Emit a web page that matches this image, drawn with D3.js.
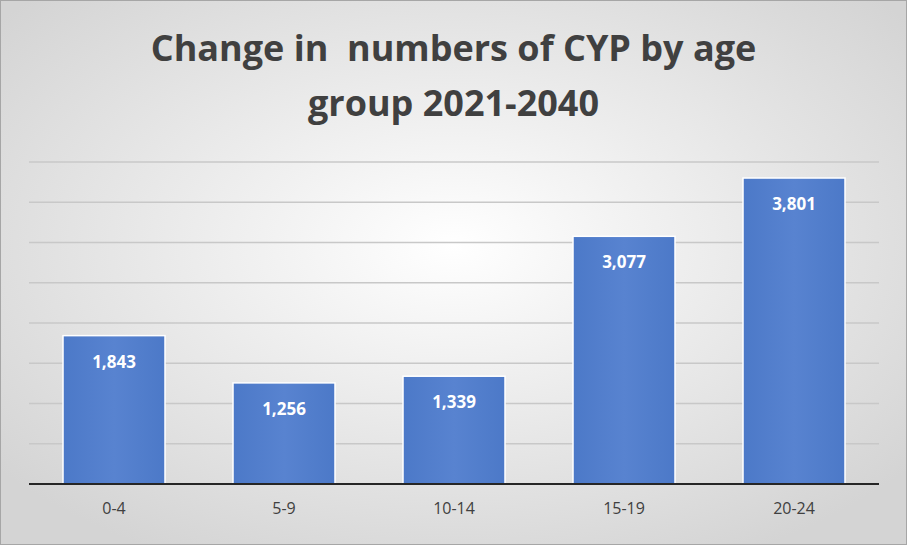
<!DOCTYPE html>
<html><head><meta charset="utf-8">
<script src="https://cdn.jsdelivr.net/npm/d3@7"></script>
<style>body{margin:0;overflow:hidden}svg{display:block}</style>
</head><body>
<div id="chart"></div>
<script>
const categories = ["0-4", "5-9", "10-14", "15-19", "20-24"];
const values = [1843, 1256, 1339, 3077, 3801];
const yTicks = [0, 500, 1000, 1500, 2000, 2500, 3000, 3500, 4000];
const titleLines = ["Change in  numbers of CYP by age", "group 2021-2040"];

const W = 907, H = 545;
const margin = {top: 162, right: 28, bottom: 61, left: 29};

const svg = d3.select("#chart").append("svg").attr("width", W).attr("height", H);
const defs = svg.append("defs");
const bg = defs.append("radialGradient").attr("id", "bg").attr("cx", "50%").attr("cy", "45%").attr("r", "65%");
bg.append("stop").attr("offset", "0%").attr("stop-color", "#ffffff");
bg.append("stop").attr("offset", "100%").attr("stop-color", "#d4d4d4");
const bar = defs.append("linearGradient").attr("id", "bar").attr("x1", 0).attr("x2", 1);
bar.append("stop").attr("offset", "0%").attr("stop-color", "#4c79c8");
bar.append("stop").attr("offset", "50%").attr("stop-color", "#5883d0");
bar.append("stop").attr("offset", "100%").attr("stop-color", "#4c79c8");

svg.append("rect").attr("x", 0.5).attr("y", 0.5).attr("width", W - 1).attr("height", H - 1)
  .attr("fill", "url(#bg)").attr("stroke", "#a6a6a6");

const x = d3.scaleBand().domain(categories).range([margin.left, W - margin.right])
  .paddingInner(0.4).paddingOuter(0.2);
const y = d3.scaleLinear().domain([0, 4000]).range([H - margin.bottom, margin.top]);

svg.append("g").selectAll("line").data(yTicks.slice(1)).join("line")
  .attr("x1", margin.left).attr("x2", W - margin.right)
  .attr("y1", d => y(d)).attr("y2", d => y(d))
  .attr("stroke", "#c8c8c8").attr("stroke-width", 1.5);

svg.append("g").selectAll("rect").data(values).join("rect")
  .attr("x", (d, i) => x(categories[i])).attr("width", x.bandwidth())
  .attr("y", d => y(d)).attr("height", d => y(0) - y(d))
  .attr("fill", "url(#bar)").attr("stroke", "#ffffff").attr("stroke-width", 1.5);

svg.append("line").attr("x1", margin.left).attr("x2", W - margin.right)
  .attr("y1", y(0)).attr("y2", y(0)).attr("stroke", "#262626").attr("stroke-width", 2);

svg.append("g").selectAll("text").data(values).join("text")
  .attr("x", (d, i) => x(categories[i]) + x.bandwidth() / 2).attr("y", d => y(d) + 32)
  .attr("text-anchor", "middle").attr("fill", "#fff")
  .style("font", "bold 17px 'Open Sans', sans-serif")
  .text(d => d3.format(",")(d));

svg.append("g").selectAll("text").data(categories).join("text")
  .attr("x", d => x(d) + x.bandwidth() / 2).attr("y", y(0) + 30)
  .attr("text-anchor", "middle").attr("fill", "#404040")
  .style("font", "16px 'Open Sans', sans-serif").text(d => d);

svg.append("g").selectAll("text").data(titleLines).join("text")
  .attr("x", W / 2).attr("y", (d, i) => 61 + i * 55)
  .attr("text-anchor", "middle").attr("fill", "#404040")
  .style("font", "bold 36px 'Open Sans', sans-serif").style("white-space", "pre")
  .text(d => d);
</script>
</body></html>
